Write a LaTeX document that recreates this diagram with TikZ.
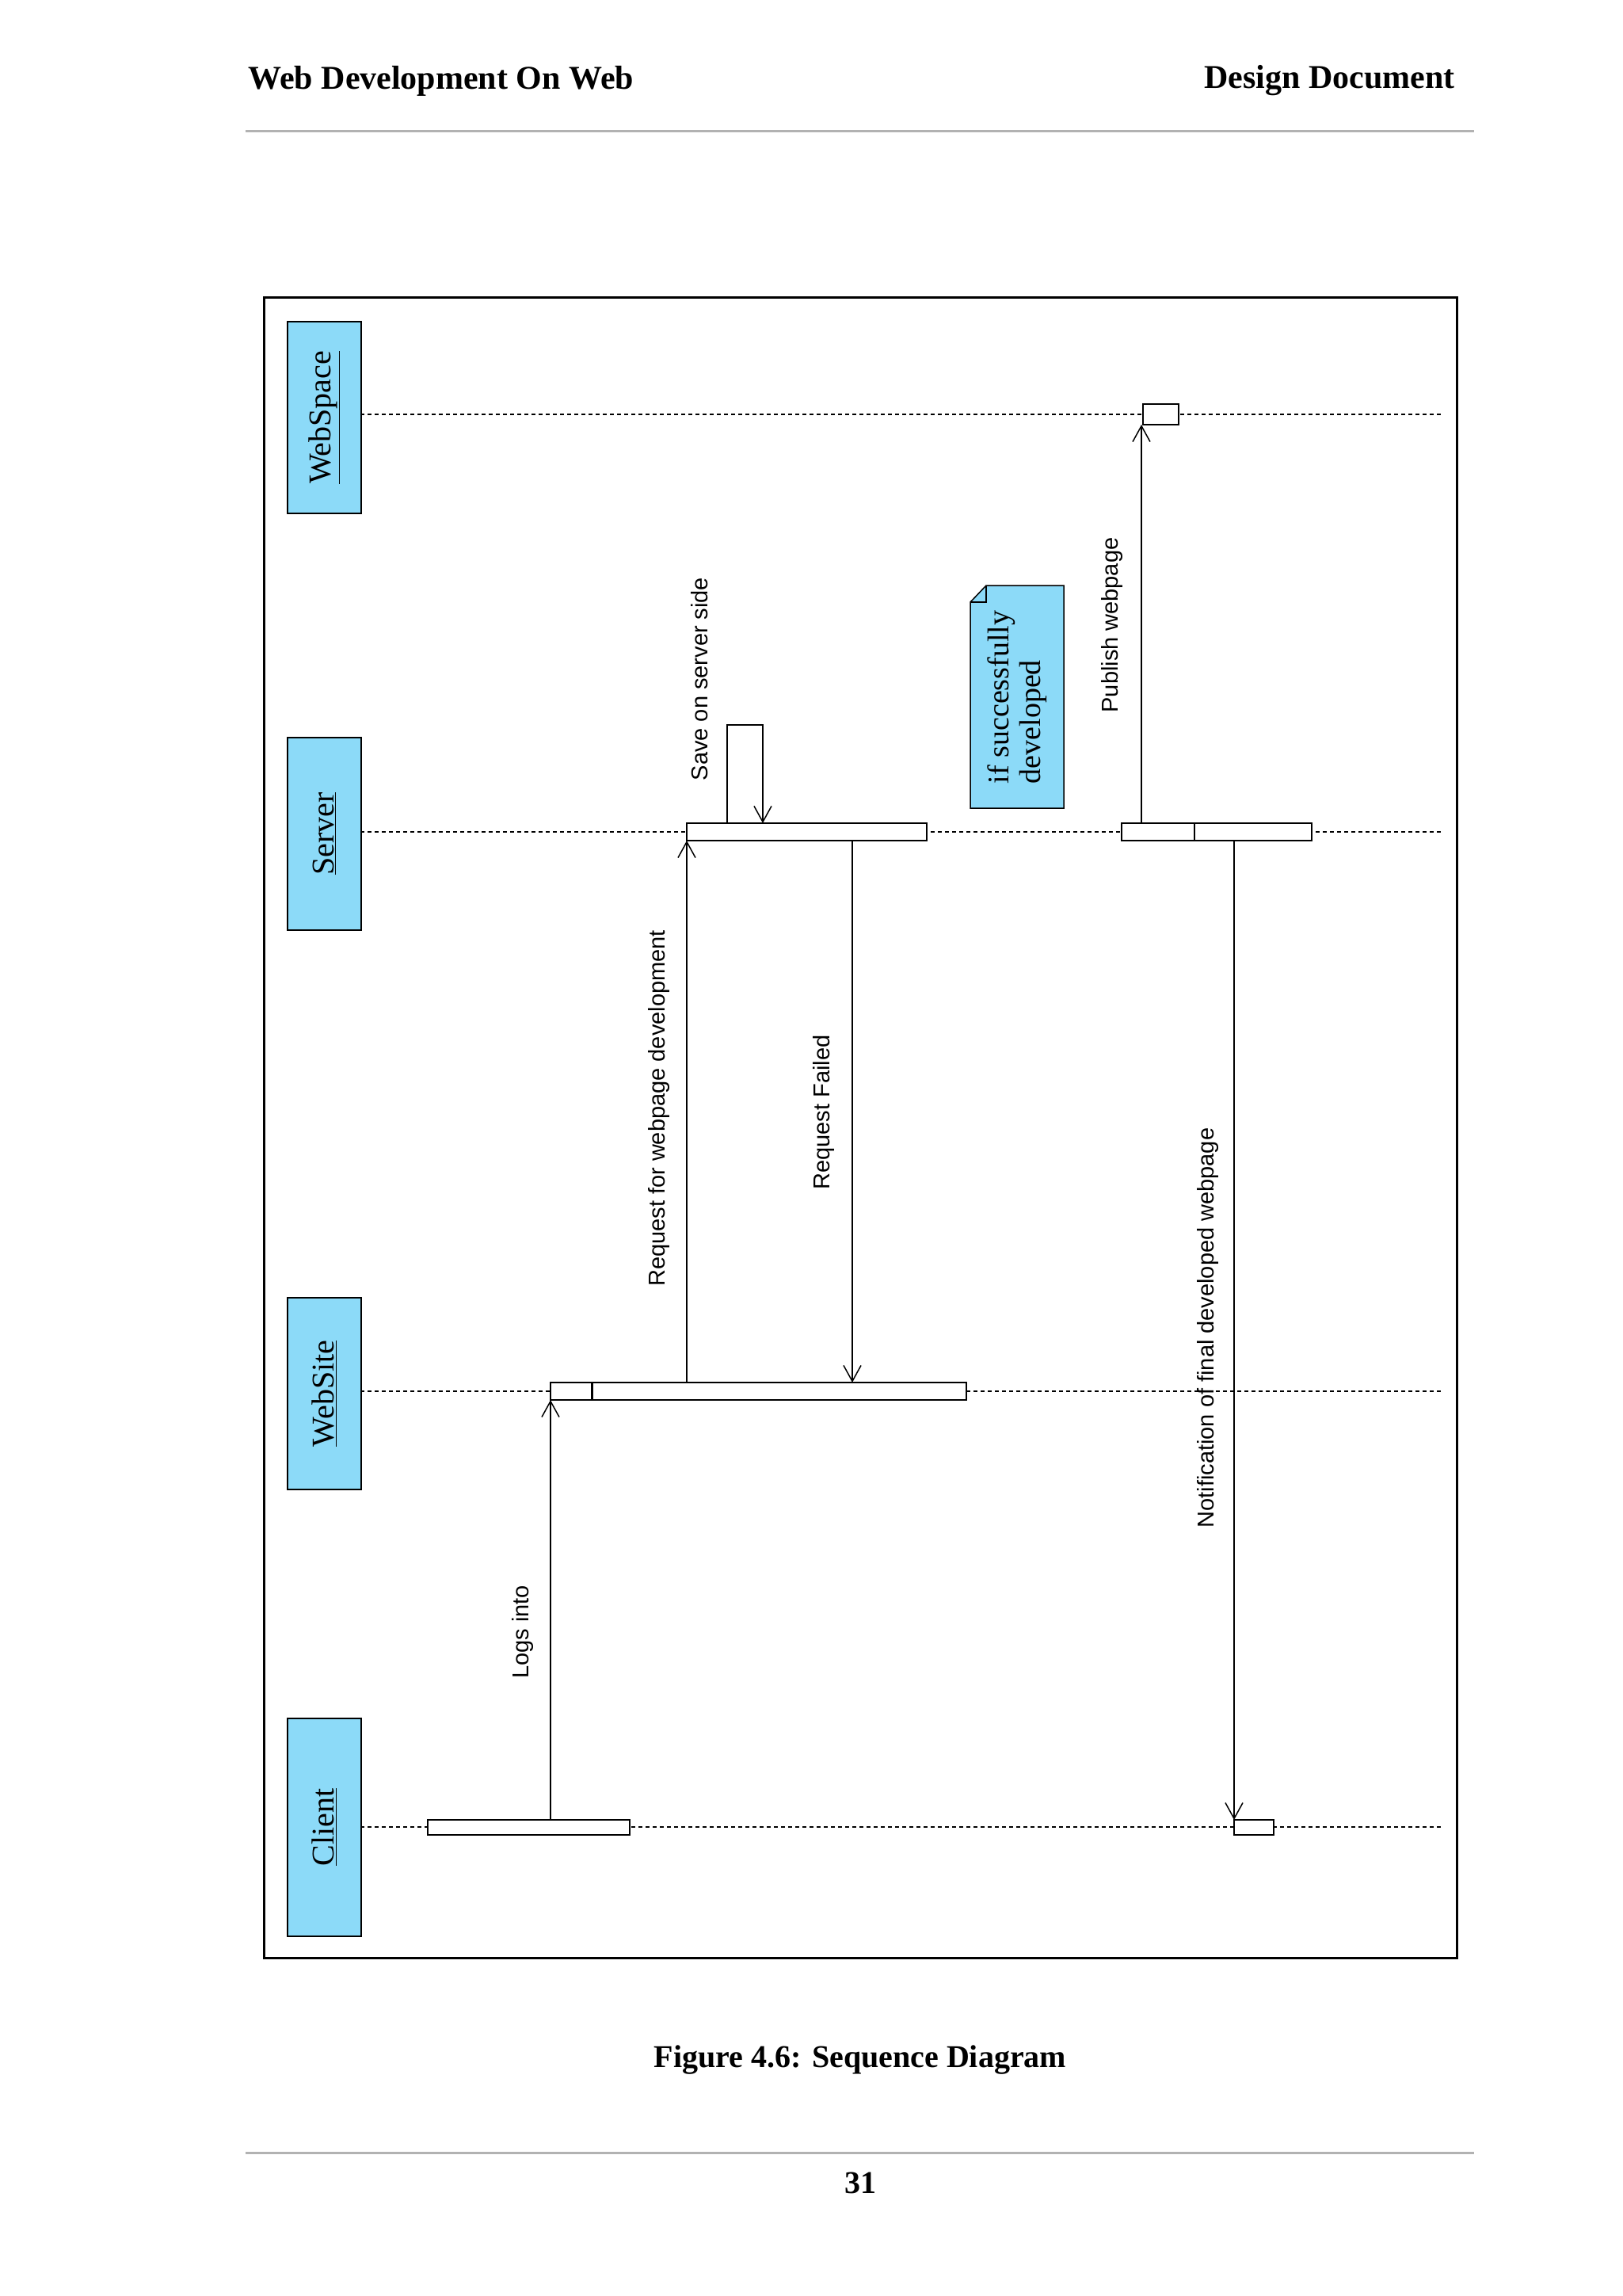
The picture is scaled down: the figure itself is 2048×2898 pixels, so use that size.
\documentclass[tikz,border=0pt]{standalone}
\usepackage{fontspec}
\setmainfont{Liberation Serif}
\newfontfamily\arialf{Liberation Sans}
\usetikzlibrary{arrows.meta}
\begin{document}
\begin{tikzpicture}[x=1pt,y=-1pt,
  life/.style={draw=black,line width=1.5pt,fill=cyan!45!white,minimum width=93pt,anchor=north west,inner sep=0pt},
  lname/.style={font=\fontsize{40}{44}\selectfont,rotate=90},
  lline/.style={dashed,line width=1.6pt,dash pattern=on 5pt off 4pt},
  act/.style={draw,line width=1.6pt,fill=white},
  msg/.style={line width=1.6pt,-{Straight Barb[length=20pt,width=22pt,line width=1.5pt]}},
  mlab/.style={font=\arialf\fontsize{29}{32}\selectfont,rotate=90}]
\useasboundingbox (0,0) rectangle (2048,2898);
\fill[white] (0,0) rectangle (2048,2898);
% header
\node[font=\bfseries\fontsize{42}{46}\selectfont,anchor=west] (h1) at (310,102) {Web Development On Web};
\node[font=\bfseries\fontsize{42}{46}\selectfont,anchor=east] (h2) at (1840,102) {Design Document};
\draw[gray!60,line width=3pt] (310,166) -- (1861,166);
\draw[gray!60,line width=3pt] (310,2717) -- (1861,2717);
\node[font=\bfseries\fontsize{40}{44}\selectfont] (cap) at (1086,2600) {Figure 4.6: Sequence Diagram};
\node[font=\bfseries\fontsize{40}{44}\selectfont] (pg) at (1086,2755) {31};
% frame
\draw[line width=3pt] (333,375) rectangle (1839,2471);
% lifeline heads
\node[life,minimum height=275pt] (client) at (362,2168) {};
\node[lname] at (client.center) {\underline{Client}};
\node[life,minimum height=242pt] (website) at (362,1637) {};
\node[lname] at (website.center) {\underline{WebSite}};
\node[life,minimum height=243pt] (server) at (362,930) {};
\node[lname] at (server.center) {\underline{Server}};
\node[life,minimum height=242pt] (webspace) at (362,405) {};
\node[lname] at (webspace.center) {\underline{WebSpace}};
% lifelines
\draw[lline] (455,2306) -- (1820,2306);
\draw[lline] (455,1756) -- (1820,1756);
\draw[lline] (455,1050) -- (1820,1050);
\draw[lline] (455,523) -- (1820,523);
% activations
\draw[act] (540,2297) rectangle (795,2316);
\draw[act] (695,1745) rectangle (747,1767);
\draw[act] (748,1745) rectangle (1220,1767);
\draw[act] (867,1039) rectangle (1170,1061);
\draw[act] (1416,1039) rectangle (1508,1061);
\draw[act] (1508,1039) rectangle (1656,1061);
\draw[act] (1443,510) rectangle (1488,536);
\draw[act] (1558,2297) rectangle (1608,2316);
% messages
\coordinate (m1a) at (695,2297); \coordinate (m1b) at (695,1767);
\draw[msg] (m1a) -- (m1b);
\node[mlab] at (660,2060) {Logs into};
\coordinate (m2a) at (867,1745); \coordinate (m2b) at (867,1061);
\draw[msg] (m2a) -- (m2b);
\node[mlab] at (832,1399) {Request for webpage development};
\coordinate (m3a) at (1076,1061); \coordinate (m3b) at (1076,1745);
\draw[msg] (m3a) -- (m3b);
\node[mlab] at (1040,1404) {Request Failed};
\coordinate (s1) at (918,1039); \coordinate (s2) at (963,1039);
\draw[msg] (s1) -- (918,915) -- (963,915) -- (s2);
\node[mlab] at (883,857) {Save on server side};
\coordinate (m4a) at (1441,1039); \coordinate (m4b) at (1441,536);
\draw[msg] (m4a) -- (m4b);
\node[mlab] at (1404,789) {Publish webpage};
\coordinate (m5a) at (1558,1061); \coordinate (m5b) at (1558,2297);
\draw[msg] (m5a) -- (m5b);
\node[mlab] at (1525,1676) {Notification of final developed webpage};
% note
\draw[line width=1.5pt,fill=cyan!45!white] (1225,1020) -- (1225,760) -- (1245,739) -- (1343,739) -- (1343,1020) -- cycle;
\draw[line width=1.5pt] (1225,760) -- (1245,760) -- (1245,739);
\node[rotate=90,align=left,font=\fontsize{38}{40}\selectfont] (note) at (1284,880) {if successfully\\developed};
\end{tikzpicture}
\end{document}
